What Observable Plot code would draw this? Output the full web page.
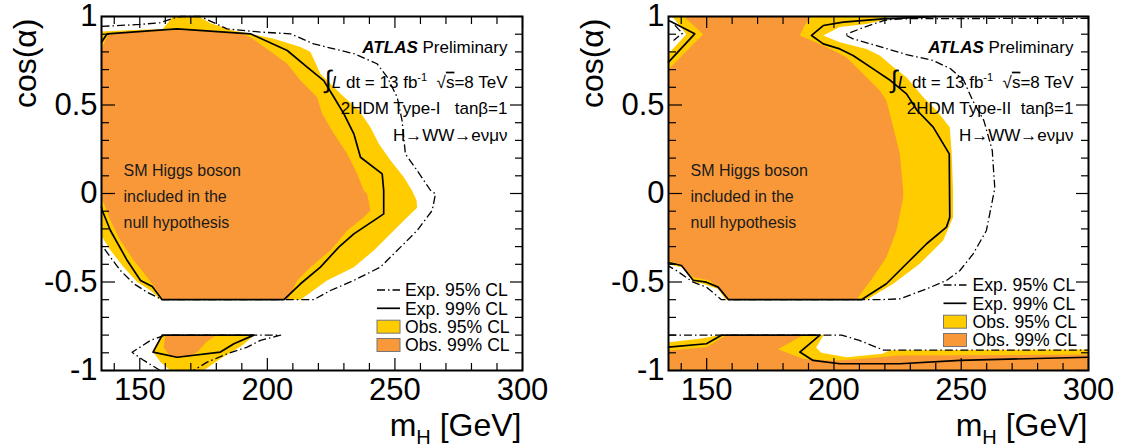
<!DOCTYPE html>
<html>
<head>
<meta charset="utf-8">
<script src="https://cdn.jsdelivr.net/npm/d3@7"></script>
<script src="https://cdn.jsdelivr.net/npm/@observablehq/plot@0.6"></script>
<style>
  html, body { margin: 0; padding: 0; background: #fff; }
  #charts { display: flex; width: 1132px; height: 448px; }
  svg text { white-space: pre; }
</style>
</head>
<body>
<div id="charts"></div>
<script>
// ---------- axis ticks and labels ----------
const xMajorTicks = [150, 200, 250, 300];
const xMinorTicks = [140, 160, 170, 180, 190, 210, 220, 230, 240, 260, 270, 280, 290];
const xTickLabels = ["150", "200", "250", "300"];
const yMajorTicks = [-1, -0.5, 0, 0.5, 1];
const yMinorTicks = [-0.9, -0.8, -0.7, -0.6, -0.4, -0.3, -0.2, -0.1, 0.1, 0.2, 0.3, 0.4, 0.6, 0.7, 0.8, 0.9];
const yTickLabels = ["-1", "-0.5", "0", "0.5", "1"];
const xTitle = "mH [GeV]";
const yTitle = "cos(α)";
const legendLabels = ["Exp. 95% CL", "Exp. 99% CL", "Obs. 95% CL", "Obs. 99% CL"];
const nullHypothesisNote = "SM Higgs boson\nincluded in the\nnull hypothesis";
const notesTypeI = ["ATLAS Preliminary", "∫L dt = 13 fb-1  √s=8 TeV", "2HDM Type-I   tanβ=1", "H→WW→eνμν"];
const notesTypeII = ["ATLAS Preliminary", "∫L dt = 13 fb-1  √s=8 TeV", "2HDM Type-II  tanβ=1", "H→WW→eνμν"];

// ---------- Type-I contours: [mH (GeV), cos(alpha)] ----------
const obs95TypeI = [[135,0.915],[150,0.925],[159,0.93],[163,1.0],[173,1.0],[178,0.96],[187,0.92],[193.4,0.902],[202.5,0.874],[213,0.827],[216.9,0.799],[220.8,0.676],[228.7,0.563],[235.9,0.469],[240.4,0.375],[243.7,0.281],[248.3,0.186],[253.5,0.092],[256.7,0.017],[258.5,-0.04],[258.7,-0.08],[254.8,-0.134],[248.3,-0.228],[241.7,-0.322],[233.9,-0.416],[223.4,-0.491],[213,-0.6],[158.2,-0.6],[154.2,-0.548],[149,-0.5],[143.7,-0.416],[138.5,-0.32],[135,-0.24]];
const obs99TypeI = [[135,0.82],[137.5,0.895],[140,0.905],[164.6,0.925],[189.5,0.905],[193.4,0.883],[202.5,0.789],[207.8,0.733],[213,0.638],[219.5,0.544],[221.5,0.45],[226.1,0.337],[231.3,0.224],[235.2,0.111],[237.8,0.017],[239.1,-0.002],[240.4,-0.096],[237.8,-0.134],[231.3,-0.209],[224.7,-0.322],[216.9,-0.416],[211.7,-0.491],[208,-0.6],[159.4,-0.6],[152.9,-0.473],[147.7,-0.379],[142.4,-0.266],[138.5,-0.153],[135.5,-0.04],[135,-0.03]];
const exp99TypeI = [[135,0.855],[137.2,0.902],[164.6,0.93],[193.4,0.902],[207.8,0.808],[215.6,0.714],[222.1,0.638],[226.1,0.544],[230,0.45],[233.9,0.337],[236.5,0.205],[245,0.111],[245.6,0.017],[245.6,-0.115],[241.7,-0.153],[233.9,-0.228],[228,-0.303],[220.8,-0.416],[213,-0.51],[206.5,-0.6],[158.8,-0.6],[154.9,-0.525],[150.3,-0.491],[145.1,-0.379],[138.5,-0.209],[135.3,-0.096],[135,-0.077]];
const exp95TypeI = [[135,0.944],[150,0.955],[158,0.965],[163,0.99],[166,1.0],[173.8,1.0],[184.2,0.93],[197.3,0.912],[209.1,0.902],[218.2,0.845],[233.9,0.79],[243,0.733],[247,0.657],[250.9,0.544],[252.8,0.412],[254.1,0.224],[258.7,0.13],[264,0.017],[265.9,-0.002],[264.6,-0.096],[258.7,-0.209],[252.2,-0.303],[244.3,-0.416],[233.9,-0.491],[224.7,-0.548],[218.2,-0.6],[158.8,-0.6],[152.9,-0.558],[147.7,-0.51],[142.4,-0.435],[138.5,-0.36],[135,-0.29]];
const obs95TypeILow = [[159,-0.8],[195,-0.8],[190,-0.86],[182,-0.93],[175,-1.0],[162,-1.0],[158,-0.95],[155,-0.89]];
const obs99TypeILow = [[160,-0.8],[180,-0.8],[176,-0.84],[172.5,-0.897],[168.6,-0.925],[162.1,-0.925],[159.4,-0.868]];
const exp99TypeILow = [[158.8,-0.8],[194.7,-0.8],[186.9,-0.849],[181.6,-0.896],[164.6,-0.925],[155.2,-0.896],[158.8,-0.8]];
const exp95TypeILow = [[158,-1.0],[151.6,-0.943],[147,-0.897],[154.2,-0.83],[160,-0.8],[205.2,-0.8],[197.3,-0.83],[192.1,-0.868],[184.2,-0.906],[176.4,-0.953],[171,-1.0]];

// ---------- Type-II contours ----------
const obs95TypeII = [[135,0.79],[142,0.9],[136.5,1.0],[222,1.0],[218,0.975],[212.8,0.958],[202.3,0.94],[195.8,0.893],[202.3,0.855],[212.8,0.817],[218,0.78],[223.3,0.714],[228.5,0.657],[235.1,0.544],[240.3,0.469],[245.5,0.375],[246.2,0.243],[246.8,0.017],[246.8,-0.134],[242.9,-0.265],[233.7,-0.397],[223.3,-0.51],[212.8,-0.6],[157.5,-0.6],[154.5,-0.54],[148.6,-0.51],[144.7,-0.5],[140.8,-0.42],[135,-0.4]];
const obs99TypeII = [[135,0.7],[148.6,0.9],[141,1.0],[191,1.0],[188.5,0.95],[186.6,0.893],[197.1,0.827],[204.9,0.77],[212.8,0.657],[218,0.582],[220.6,0.525],[223.3,0.375],[225.9,0.224],[227.2,0.017],[227.2,-0.021],[224.6,-0.209],[220.6,-0.36],[215.4,-0.473],[211.5,-0.548],[208.9,-0.6],[159.1,-0.6],[156.5,-0.567],[151.2,-0.491],[144.7,-0.473],[139.5,-0.4],[135,-0.38]];
const exp99TypeII = [[240,1.0],[233.7,0.995],[219.3,0.987],[203.6,0.968],[195.8,0.949],[191.2,0.893],[195.8,0.845],[202.3,0.817],[207.5,0.78],[215.4,0.704],[222.2,0.638],[228.5,0.563],[232.7,0.469],[239,0.375],[245.3,0.224],[245.5,-0.134],[244.2,-0.19],[236.4,-0.284],[228.5,-0.397],[220.6,-0.51],[210.8,-0.6],[158.6,-0.6],[154.5,-0.529],[149.9,-0.501],[144.7,-0.49],[140.1,-0.407],[135,-0.39]];
const exp95TypeII = [[300,0.99],[230,0.988],[222,0.983],[219.5,0.977],[212,0.94],[204.3,0.897],[207.5,0.874],[218,0.83],[228.5,0.785],[239,0.751],[245.8,0.705],[251,0.638],[254.7,0.52],[258.9,0.412],[262.2,0.243],[262.8,0.11],[263.2,0.03],[262.5,-0.021],[261.2,-0.115],[259.9,-0.209],[254.7,-0.341],[249.5,-0.435],[244.2,-0.491],[236.4,-0.539],[225.9,-0.595],[218,-0.6],[155.8,-0.6],[149.9,-0.529],[144.7,-0.501],[138.1,-0.435],[135,-0.41]];
const exp99TypeIICorner = [[135.5,0.975],[145.3,0.902],[135,0.742]];
const exp95TypeIICorner = [[137.5,0.95],[140.5,0.905],[137,0.865]];
const obs95TypeIILow = [[135,-0.84],[147.3,-0.821],[155.2,-0.8],[196,-0.8],[193,-0.87],[195,-0.9],[205,-0.925],[219,-0.905],[222,-0.885],[300,-0.882],[300,-1.0],[135,-1.0]];
const obs99TypeIILow = [[135,-0.887],[149.9,-0.868],[157.8,-0.8],[188,-0.8],[178,-0.88],[188,-0.935],[200,-0.945],[215,-0.93],[225,-0.915],[300,-0.91],[300,-1.0],[135,-1.0]];
const exp99TypeIILow = [[135,-0.868],[149.9,-0.849],[156,-0.8],[194.5,-0.8],[186.6,-0.896],[191.8,-0.943],[202.3,-0.962],[225.9,-0.962],[249.5,-0.943],[300,-0.925]];
const exp95TypeIILow = [[135,-0.8],[203,-0.8],[210,-0.83],[219.5,-0.885],[300,-0.885]];

// ---------- styling ----------
const FONT = "'Liberation Sans', Arial, Helvetica, sans-serif";
const YELLOW = "#ffcc00";
const ORANGE = "#f99838";
const DASH = "8,3,1.5,3";
const XY = {x: d => d[0], y: d => d[1]};

const filled = (pts, color) => Plot.line(pts, {...XY, fill: color, stroke: "none"});
const dashed = pts => Plot.line(pts, {...XY, stroke: "#000", strokeWidth: 1.3, strokeDasharray: DASH, strokeLinecap: "butt"});
const solid = pts => Plot.line(pts, {...XY, stroke: "#000", strokeWidth: 1.7});

// inward ticks on all four sides of the frame
function frameTicks(fw, fh) {
  const s = {stroke: "#000", strokeWidth: 1.2};
  return [
    Plot.ruleY(yMinorTicks, {y: d => d, insetRight: fw - 8, ...s}),
    Plot.ruleY(yMajorTicks, {y: d => d, insetRight: fw - 14, ...s}),
    Plot.ruleY(yMinorTicks, {y: d => d, insetLeft: fw - 7, ...s}),
    Plot.ruleY(yMajorTicks, {y: d => d, insetLeft: fw - 12, ...s}),
    Plot.ruleX(xMinorTicks, {x: d => d, insetTop: fh - 7, ...s}),
    Plot.ruleX(xMajorTicks, {x: d => d, insetTop: fh - 12, ...s}),
    Plot.ruleX(xMinorTicks, {x: d => d, insetBottom: fh - 8, ...s}),
    Plot.ruleX(xMajorTicks, {x: d => d, insetBottom: fh - 12, ...s})
  ];
}

// rich text: bold-italic ATLAS, integral, superscript, subscript
function enrich(svg) {
  d3.select(svg).selectAll("text").each(function () {
    const s = this.textContent;
    let parts = null;
    if (s === "ATLAS Preliminary") {
      parts = [["ATLAS", {"font-weight": "bold", "font-style": "italic"}], [" Preliminary", {}]];
    } else if (s.startsWith("∫L")) {
      parts = [["∫", {"font-size": "25px"}], ["L", {"font-style": "italic"}], [" dt = 13 fb", {}],
               ["-1", {"font-size": "11px", dy: "-7"}], ["  √", {dy: "7"}],
               ["s", {"text-decoration": "overline"}], ["=8 TeV", {}]];
    } else if (s === xTitle) {
      parts = [["m", {}], ["H", {"font-size": "20px", dy: "8"}], [" [GeV]", {dy: "-8"}]];
    }
    if (!parts) return;
    const t = d3.select(this);
    t.text(null);
    for (const [txt, attrs] of parts) {
      const sp = t.append("tspan").text(txt);
      for (const k in attrs) sp.attr(k, attrs[k]);
    }
  });
}

function addLegend(svg, L) {
  const g = d3.select(svg).append("g")
    .attr("font-family", FONT).attr("font-size", 17.6).attr("fill", "#000").attr("text-anchor", "start");
  g.append("line").attr("x1", L.x0).attr("x2", L.x1).attr("y1", L.rows[0]).attr("y2", L.rows[0])
    .attr("stroke", "#000").attr("stroke-width", 1.3).attr("stroke-dasharray", DASH);
  g.append("line").attr("x1", L.x0).attr("x2", L.x1).attr("y1", L.rows[1]).attr("y2", L.rows[1])
    .attr("stroke", "#000").attr("stroke-width", 1.7);
  [[2, YELLOW], [3, ORANGE]].forEach(([i, c]) => {
    g.append("rect").attr("x", L.x0).attr("y", L.rows[i] - 6.5).attr("width", L.x1 - L.x0).attr("height", 13)
      .attr("fill", c).attr("stroke", "#777").attr("stroke-width", 1);
  });
  legendLabels.forEach((lab, i) => {
    g.append("text").attr("x", L.tx).attr("y", L.rows[i]).attr("dy", "0.36em").text(lab);
  });
}

function panel(cfg) {
  const W = 566, H = 448, mt = 16, mb = 78, mr = 44, ml = cfg.marginLeft;
  const fw = W - ml - mr, fh = H - mt - mb;
  const svg = Plot.plot({
    width: W, height: H,
    marginLeft: ml, marginRight: mr, marginTop: mt, marginBottom: mb,
    x: {domain: [135, 300], axis: null},
    y: {domain: [-1, 1], axis: null},
    style: {fontFamily: FONT, background: "#fff", overflow: "visible"},
    marks: [
      ...cfg.obs95.map(p => filled(p, YELLOW)),
      ...cfg.obs99.map(p => filled(p, ORANGE)),
      ...cfg.exp95.map(dashed),
      ...cfg.exp99.map(solid),
      ...frameTicks(fw, fh),
      Plot.frame({stroke: "#000", strokeWidth: 2}),
      Plot.text(yMajorTicks, {y: d => d, text: (d, i) => yTickLabels[i], frameAnchor: "left", dx: -4,
        textAnchor: "end", lineAnchor: "middle", fontSize: 31}),
      Plot.text(xMajorTicks, {x: d => d, text: (d, i) => xTickLabels[i], frameAnchor: "bottom", dy: 20,
        lineAnchor: "middle", fontSize: 31}),
      Plot.text([yTitle], {text: d => d, frameAnchor: "top-left", dx: -76, dy: 2, rotate: -90,
        textAnchor: "end", lineAnchor: "middle", fontSize: 32}),
      Plot.text([xTitle], {text: d => d, frameAnchor: "bottom-right", dx: -1, dy: 55,
        textAnchor: "end", lineAnchor: "middle", fontSize: 32}),
      Plot.text([nullHypothesisNote], {text: d => d, frameAnchor: "top-left", dx: 22, dy: 177,
        textAnchor: "start", lineAnchor: "middle", lineHeight: 1.64, fontSize: 16, fill: "#1a1a1a"}),
      ...cfg.notes.map((s, i) => Plot.text([s], {text: d => d, frameAnchor: "top-right", dx: -15,
        dy: [30.7, 65.7, 92.3, 119][i], textAnchor: "end", lineAnchor: "middle", fontSize: 17}))
    ]
  });
  enrich(svg);
  addLegend(svg, cfg.legend);
  return svg;
}

const root = document.getElementById("charts");
root.append(panel({
  marginLeft: 101,
  obs95: [obs95TypeI, obs95TypeILow],
  obs99: [obs99TypeI, obs99TypeILow],
  exp95: [exp95TypeI, exp95TypeILow],
  exp99: [exp99TypeI, exp99TypeILow],
  notes: notesTypeI,
  legend: {x0: 377, x1: 400, tx: 405, rows: [290, 308.3, 326.7, 345]}
}));
root.append(panel({
  marginLeft: 102,
  obs95: [obs95TypeII, obs95TypeIILow],
  obs99: [obs99TypeII, obs99TypeIILow],
  exp95: [exp95TypeII, exp95TypeIICorner, exp95TypeIILow],
  exp99: [exp99TypeII, exp99TypeIICorner, exp99TypeIILow],
  notes: notesTypeII,
  legend: {x0: 377.5, x1: 400.5, tx: 406.5, rows: [285, 303.3, 321.7, 340]}
}));
</script>
</body>
</html>
